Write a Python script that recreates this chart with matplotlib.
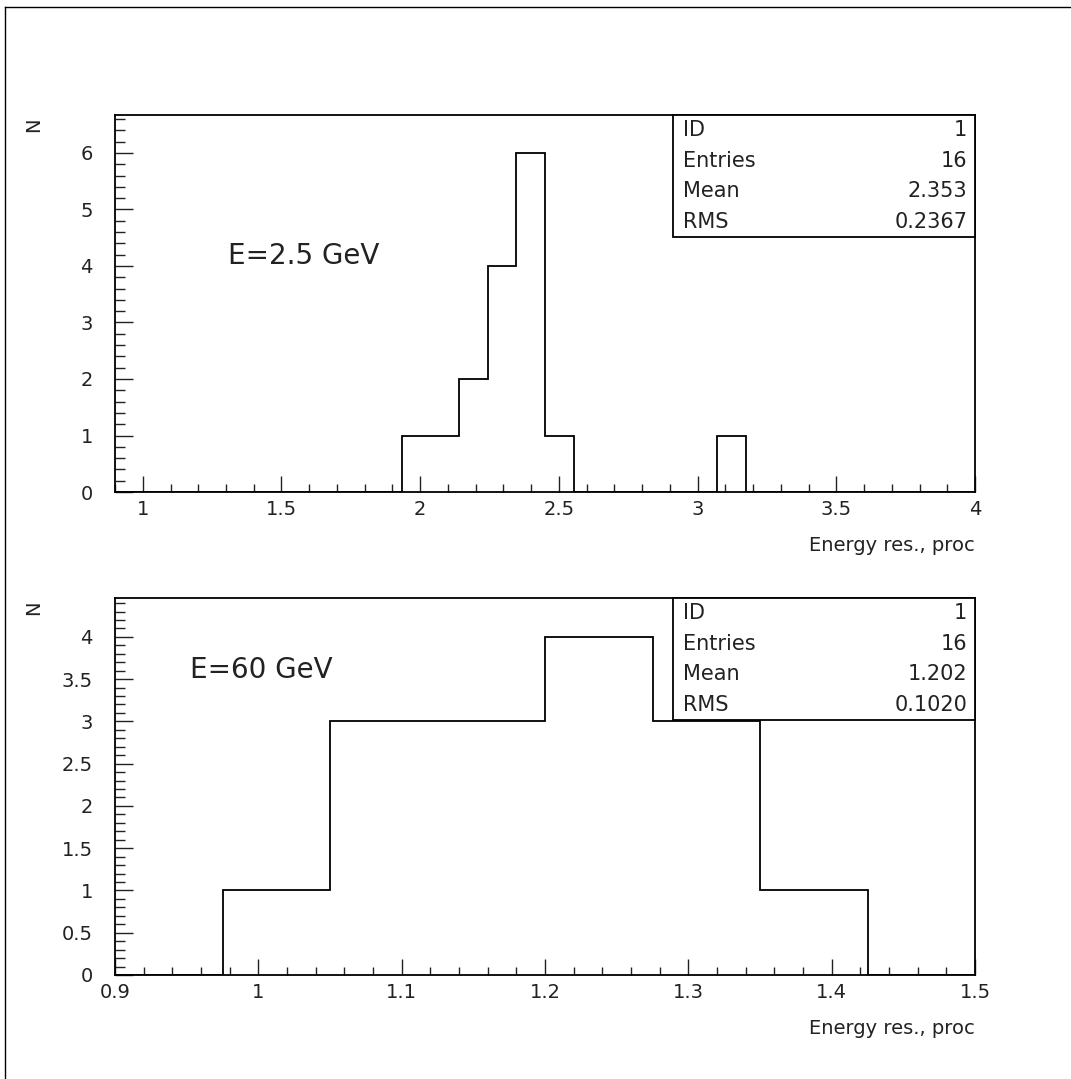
#! /usr/bin/env python
#   Energy resolution histograms for two beam energies (PAW style)

import numpy as np
import matplotlib
matplotlib.use('Agg')
import matplotlib.pyplot as plt
from matplotlib.patches import Rectangle
from matplotlib.lines import Line2D
from matplotlib.ticker import MultipleLocator, FormatStrFormatter

# E = 2.5 GeV : 30 bins between 0.9 and 4.0
top_range = (0.9, 4.0)
top_counts = [0, 0, 0, 0, 0, 0, 0, 0, 0, 0,
              1, 1, 2, 4, 6, 1, 0, 0, 0, 0,
              0, 1, 0, 0, 0, 0, 0, 0, 0, 0]
top_stats_names = ['ID', 'Entries', 'Mean', 'RMS']
top_stats_values = ['1', '16', '2.353', '0.2367']
top_title = 'E=2.5 GeV'

# E = 60 GeV : 8 bins between 0.9 and 1.5
bot_range = (0.9, 1.5)
bot_counts = [0, 1, 3, 3, 4, 3, 1, 0]
bot_stats_names = ['ID', 'Entries', 'Mean', 'RMS']
bot_stats_values = ['1', '16', '1.202', '0.1020']
bot_title = 'E=60 GeV'

x_label = 'Energy res., proc'
y_label = 'N'


def draw_hist(ax, xrange, counts, ytop, xmaj, xmin, ymaj, ymin,
              names, values, title, title_pos):
    TICKFONT = 14
    STATFONT = 15
    BIGFONT = 20

    edges = np.linspace(xrange[0], xrange[1], len(counts) + 1)
    ax.stairs(counts, edges, color='black', lw=1.3)

    ax.set_xlim(*xrange)
    ax.set_ylim(0, ytop)
    for sp in ax.spines.values():
        sp.set_linewidth(1.3)

    ax.xaxis.set_major_locator(MultipleLocator(xmaj))
    ax.xaxis.set_minor_locator(MultipleLocator(xmin))
    ax.yaxis.set_major_locator(MultipleLocator(ymaj))
    ax.yaxis.set_minor_locator(MultipleLocator(ymin))
    ax.xaxis.set_major_formatter(FormatStrFormatter('%g'))
    ax.yaxis.set_major_formatter(FormatStrFormatter('%g'))

    ax.tick_params(which='both', direction='in', top=False, right=False,
                   width=1.0, labelsize=TICKFONT, color='#222222',
                   labelcolor='#222222')
    ax.tick_params(axis='x', which='major', length=11.5, pad=6)
    ax.tick_params(axis='x', which='minor', length=6)
    ax.tick_params(axis='y', which='major', length=13, pad=16)
    ax.tick_params(axis='y', which='minor', length=7)

    # axis titles, ROOT style
    ax.text(1.0, -0.143, x_label, transform=ax.transAxes, ha='right',
            va='center', fontsize=TICKFONT, color='#222222')
    ax.text(-0.095, 0.974, y_label, transform=ax.transAxes, ha='center',
            va='center', rotation=90, fontsize=TICKFONT, color='#222222')

    # statistics box in the upper right corner
    bx, by = 0.649, 0.676
    ax.add_patch(Rectangle((bx, by), 1 - bx, 1 - by, transform=ax.transAxes,
                           facecolor='white', edgecolor='black', lw=1.3,
                           clip_on=False, zorder=5))
    row_h = (1 - by) / len(names)
    for i, (n, v) in enumerate(zip(names, values)):
        yy = 1 - (i + 0.5) * row_h
        ax.text(bx + 0.012, yy, n, transform=ax.transAxes, ha='left',
                va='center', fontsize=STATFONT, color='#222222', zorder=6)
        ax.text(0.991, yy, v, transform=ax.transAxes, ha='right',
                va='center', fontsize=STATFONT, color='#222222', zorder=6)

    ax.text(title_pos[0], title_pos[1], title, transform=ax.transAxes,
            ha='left', va='center', fontsize=BIGFONT, color='#222222')


def main():
    plt.rcParams['font.family'] = ['DejaVu Sans']

    fig = plt.figure(figsize=(10.71, 10.79), dpi=100)
    ax1 = fig.add_axes([0.1074, 0.544, 0.803, 0.3494])
    ax2 = fig.add_axes([0.1074, 0.0964, 0.803, 0.3494])

    draw_hist(ax1, top_range, top_counts, 6.67, 0.5, 0.1, 1, 0.2,
              top_stats_names, top_stats_values, top_title, (0.131, 0.625))
    draw_hist(ax2, bot_range, bot_counts, 4.46, 0.1, 0.02, 0.5, 0.1,
              bot_stats_names, bot_stats_values, bot_title, (0.087, 0.810))

    # page border (top and left edges)
    fig.add_artist(Line2D([5 / 1071, 1.0], [1 - 7 / 1079, 1 - 7 / 1079],
                          transform=fig.transFigure, color='black', lw=1.0))
    fig.add_artist(Line2D([5 / 1071, 5 / 1071], [0.0, 1 - 7 / 1079],
                          transform=fig.transFigure, color='black', lw=1.0))

    fig.savefig('out.png', dpi=100, facecolor='white')


if __name__ == "__main__":
    main()
